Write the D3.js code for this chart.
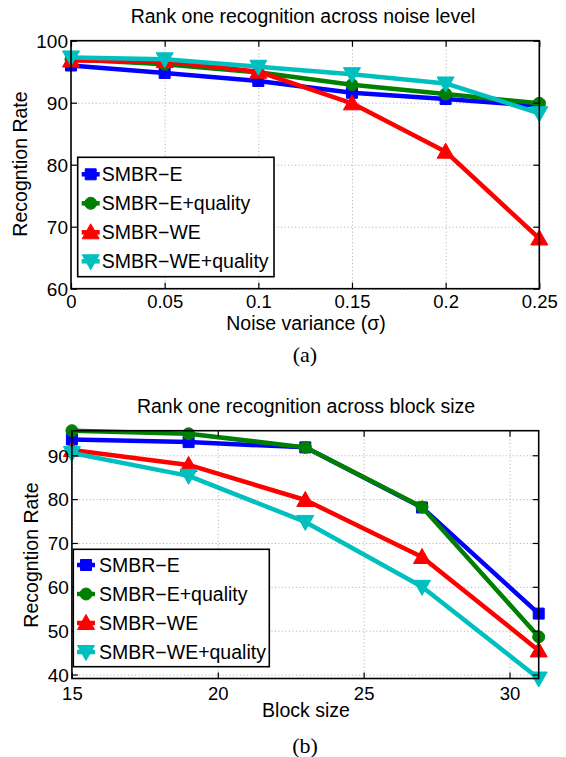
<!DOCTYPE html>
<html>
<head>
<meta charset="utf-8">
<script src="https://cdn.jsdelivr.net/npm/d3@7"></script>
<style>
  html, body { margin: 0; padding: 0; background: #fff; }
  svg { display: block; }
  text { font-family: "Liberation Sans", Arial, Helvetica, sans-serif; fill: #000; }
</style>
</head>
<body>
<svg id="chart" width="566" height="757"></svg>
<script>
// ---- Data ----
const seriesNames = ["SMBR\u2212E", "SMBR\u2212E+quality", "SMBR\u2212WE", "SMBR\u2212WE+quality"];
const seriesColors = ["#0000ff", "#008000", "#ff0000", "#00bfbf"];
const seriesMarkers = ["square", "circle", "triUp", "triDown"];

const noiseLevels = [0, 0.05, 0.1, 0.15, 0.2, 0.25];
const noiseE   = [96.0, 94.8, 93.5, 91.6, 90.6, 89.5];
const noiseEq  = [97.0, 96.2, 94.9, 92.9, 91.4, 89.9];
const noiseWE  = [96.8, 96.7, 95.0, 89.9, 82.1, 68.1];
const noiseWEq = [97.3, 97.0, 95.8, 94.6, 93.1, 88.3];
const noiseXTicks = [0, 0.05, 0.1, 0.15, 0.2, 0.25];
const noiseYTicks = [60, 70, 80, 90, 100];

const blockSizes = [15, 19, 23, 27, 31];
const blockE   = [93.6, 93.0, 91.8, 78.1, 53.9];
const blockEq  = [95.6, 94.9, 91.8, 78.2, 48.6];
const blockWE  = [91.2, 87.8, 79.8, 66.8, 45.5];
const blockWEq = [90.5, 85.3, 74.8, 60.0, 39.1];
const blockXTicks = [15, 20, 25, 30];
const blockYTicks = [40, 50, 60, 70, 80, 90];

const svg = d3.select("#chart");

function markerPath(type, cx, cy) {
  const p = d3.path();
  if (type === "square") {
    const s = 5.5; p.rect(cx - s, cy - s, 2 * s, 2 * s);
  } else if (type === "circle") {
    p.arc(cx, cy, 6, 0, 2 * Math.PI);
  } else if (type === "triUp") {
    p.moveTo(cx, cy - 8.5); p.lineTo(cx + 8.5, cy + 6.5); p.lineTo(cx - 8.5, cy + 6.5); p.closePath();
  } else {
    p.moveTo(cx, cy + 8.5); p.lineTo(cx + 8.5, cy - 6.5); p.lineTo(cx - 8.5, cy - 6.5); p.closePath();
  }
  return p.toString();
}

function drawPanel(cfg) {
  const g = svg.append("g");
  const x = d3.scaleLinear().domain(cfg.xDomain).range([cfg.left, cfg.right]);
  const y = d3.scaleLinear().domain(cfg.yDomain).range([cfg.bottom, cfg.top]);
  const w = cfg.right - cfg.left, h = cfg.bottom - cfg.top;

  // grid
  g.append("g").attr("transform", `translate(0,${cfg.bottom})`)
    .call(d3.axisBottom(x).tickValues(cfg.xTicks).tickSize(-h).tickFormat(""))
    .call(s => s.select(".domain").remove())
    .call(s => s.selectAll("line").attr("stroke", "#b8b8b8").attr("stroke-width", 1).attr("stroke-dasharray", "1.2,2.3"));
  g.append("g").attr("transform", `translate(${cfg.left},0)`)
    .call(d3.axisLeft(y).tickValues(cfg.yTicks).tickSize(-w).tickFormat(""))
    .call(s => s.select(".domain").remove())
    .call(s => s.selectAll("line").attr("stroke", "#b8b8b8").attr("stroke-width", 1).attr("stroke-dasharray", "1.2,2.3"));

  // lines and markers
  cfg.series.forEach((vals, i) => {
    const pts = cfg.xs.map((xv, j) => [x(xv), y(vals[j])]);
    g.append("path").attr("d", d3.line()(pts))
      .attr("fill", "none").attr("stroke", seriesColors[i]).attr("stroke-width", 4.5)
      .attr("stroke-linejoin", "round");
    pts.forEach(p => {
      g.append("path").attr("d", markerPath(seriesMarkers[i], p[0], p[1]))
        .attr("fill", seriesColors[i]).attr("stroke", seriesColors[i]).attr("stroke-width", 1);
    });
  });

  // axes with inward ticks
  const tickStyle = s => {
    s.select(".domain").remove();
    s.selectAll("line").attr("stroke", "#000").attr("stroke-width", 1.2);
  };
  const bottomAx = g.append("g").attr("transform", `translate(0,${cfg.bottom})`)
    .call(d3.axisBottom(x).tickValues(cfg.xTicks).tickSize(-6).tickPadding(0).tickFormat(cfg.xFormat))
    .call(tickStyle);
  bottomAx.selectAll("text").attr("font-size", "18.5px").attr("dy", null)
    .attr("y", cfg.xTickBaseline - cfg.bottom).attr("font-family", "Liberation Sans, Arial, sans-serif");
  const leftAx = g.append("g").attr("transform", `translate(${cfg.left},0)`)
    .call(d3.axisLeft(y).tickValues(cfg.yTicks).tickSize(-6).tickPadding(0).tickFormat(d3.format("d")))
    .call(tickStyle);
  leftAx.selectAll("text").attr("font-size", "19px").attr("x", -3).attr("dy", "0.36em")
    .attr("font-family", "Liberation Sans, Arial, sans-serif");
  g.append("g").attr("transform", `translate(0,${cfg.top})`)
    .call(d3.axisTop(x).tickValues(cfg.xTicks).tickSize(-6).tickFormat(""))
    .call(tickStyle);
  g.append("g").attr("transform", `translate(${cfg.right},0)`)
    .call(d3.axisRight(y).tickValues(cfg.yTicks).tickSize(-6).tickFormat(""))
    .call(tickStyle);

  // frame
  g.append("rect").attr("x", cfg.left).attr("y", cfg.top).attr("width", w).attr("height", h)
    .attr("fill", "none").attr("stroke", "#000").attr("stroke-width", 1.6);

  // legend
  const lg = g.append("g");
  lg.append("rect").attr("x", cfg.legend.x).attr("y", cfg.legend.y)
    .attr("width", cfg.legend.w).attr("height", cfg.legend.h)
    .attr("fill", "#fff").attr("stroke", "#000").attr("stroke-width", 1.6);
  seriesNames.forEach((name, i) => {
    const cy = cfg.legend.y + cfg.legend.firstRow + i * 29;
    const mx = cfg.legend.x + cfg.legend.markerOff;
    lg.append("line").attr("x1", mx - 9).attr("x2", mx + 9).attr("y1", cy).attr("y2", cy)
      .attr("stroke", seriesColors[i]).attr("stroke-width", 4.5);
    lg.append("path").attr("d", markerPath(seriesMarkers[i], mx, cy)).attr("fill", seriesColors[i])
      .attr("stroke", seriesColors[i]);
    lg.append("text").attr("x", cfg.legend.x + cfg.legend.textOff).attr("y", cy)
      .attr("dy", "0.36em").attr("font-size", "19.5px").text(name);
  });

  // titles and labels
  g.append("text").attr("x", cfg.titleX).attr("y", cfg.titleY).attr("text-anchor", "middle")
    .attr("font-size", "19.5px").text(cfg.title);
  g.append("text").attr("x", cfg.xLabelX).attr("y", cfg.xLabelY).attr("text-anchor", "middle")
    .attr("font-size", "19.5px").text(cfg.xLabel);
  g.append("text").attr("transform", `translate(${cfg.yLabelX},${cfg.yLabelY}) rotate(-90)`)
    .attr("text-anchor", "middle").attr("font-size", "19.5px").text("Recogntion Rate");
  g.append("text").attr("x", 305).attr("y", cfg.captionY).attr("text-anchor", "middle")
    .style("font-family", "'Liberation Serif', 'Times New Roman', serif").attr("font-size", "22px")
    .text(cfg.caption);
}

drawPanel({
  left: 71, right: 539.3, top: 40.7, bottom: 288.7,
  xDomain: [0, 0.25], yDomain: [60, 100],
  xTicks: noiseXTicks, yTicks: noiseYTicks,
  xFormat: d => String(d),
  xs: noiseLevels,
  series: [noiseE, noiseEq, noiseWE, noiseWEq],
  xTickBaseline: 308.5,
  legend: { x: 77.7, y: 157.3, w: 196.3, h: 119.4, firstRow: 17, markerOff: 13, textOff: 24 },
  title: "Rank one recognition across noise level", titleX: 303, titleY: 23,
  xLabel: "Noise variance (\u03c3)", xLabelX: 306, xLabelY: 329.5,
  yLabelX: 27, yLabelY: 164,
  caption: "(a)", captionY: 362
});

const blockAll = [].concat(blockE, blockEq, blockWE, blockWEq);
drawPanel({
  left: 71.9, right: 538.7, top: 430.7, bottom: 678.5,
  xDomain: d3.extent(blockSizes), yDomain: d3.extent(blockAll),
  xTicks: blockXTicks, yTicks: blockYTicks,
  xFormat: d => String(d),
  xs: blockSizes,
  series: [blockE, blockEq, blockWE, blockWEq],
  xTickBaseline: 699.5,
  legend: { x: 73.3, y: 549.3, w: 196, h: 117.4, firstRow: 15.7, markerOff: 12.7, textOff: 25.7 },
  title: "Rank one recognition across block size", titleX: 306, titleY: 413,
  xLabel: "Block size", xLabelX: 306, xLabelY: 717,
  yLabelX: 37.5, yLabelY: 555,
  caption: "(b)", captionY: 753
});
</script>
</body>
</html>
